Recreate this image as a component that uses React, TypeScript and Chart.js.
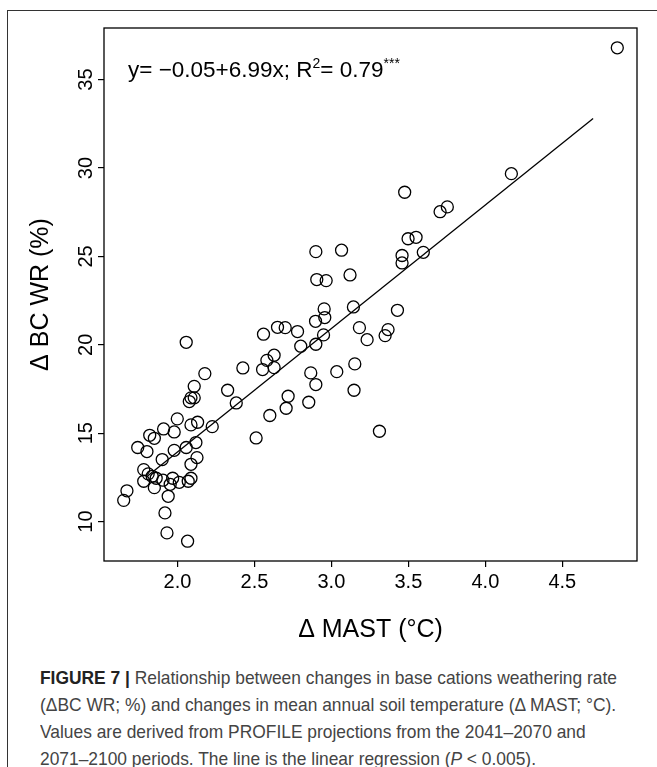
import React, { useEffect, useRef } from "react";
import { Chart, registerables } from "chart.js";

Chart.register(...registerables);

// Δ MAST (°C)
const mastValues = [
  4.857, 4.169, 3.476, 3.706, 3.753, 3.498, 3.55, 2.899, 3.066, 3.459,
  3.597, 3.459, 2.905, 2.966, 3.121, 2.953, 2.957, 3.143, 3.429, 2.897,
  2.65, 2.7, 2.78, 2.559, 3.182, 3.368, 3.349, 2.949, 2.057, 3.232,
  2.801, 2.899, 2.628, 2.581, 2.628, 2.553, 2.425, 2.178, 3.152, 2.866,
  3.035, 2.899, 3.147, 2.109, 2.326, 2.088, 2.109, 2.077, 2.382, 2.719,
  2.706, 2.853, 2.6, 1.999, 1.91, 1.979, 2.088, 2.131, 2.226, 1.82,
  1.85, 2.511, 3.312, 1.742, 1.802, 1.979, 2.057, 2.12, 1.901, 2.127,
  2.088, 1.781, 1.81, 1.836, 1.862, 1.781, 1.906, 1.969, 1.953, 2.012,
  2.088, 2.07, 1.85, 1.94, 1.672, 1.651, 1.919, 1.932, 2.066,
];

// Δ BC WR (%)
const bcwrValues = [
  36.8, 29.68, 28.63, 27.53, 27.8, 26.0, 26.08, 25.27, 25.35, 25.05,
  25.23, 24.63, 23.69, 23.63, 23.95, 22.03, 21.54, 22.14, 21.95, 21.33,
  20.99, 20.97, 20.75, 20.6, 20.97, 20.86, 20.52, 20.56, 20.14, 20.29,
  19.92, 20.03, 19.41, 19.12, 18.71, 18.6, 18.69, 18.37, 18.92, 18.41,
  18.48, 17.75, 17.43, 17.65, 17.43, 17.0, 17.0, 16.79, 16.71, 17.09,
  16.41, 16.75, 16.0, 15.81, 15.24, 15.07, 15.47, 15.62, 15.37, 14.88,
  14.71, 14.73, 15.11, 14.19, 13.96, 14.03, 14.19, 14.47, 13.51, 13.62,
  13.24, 12.94, 12.7, 12.56, 12.45, 12.28, 12.34, 12.45, 12.11, 12.22,
  12.45, 12.28, 11.92, 11.43, 11.74, 11.2, 10.49, 9.36, 8.89,
];

const xTickValues = [2.0, 2.5, 3.0, 3.5, 4.0, 4.5];
const yTickValues = [10, 15, 20, 25, 30, 35];
const xLimits = [1.523, 4.985];
const yLimits = [7.77, 37.92];

// regression y = intercept + slope * x, drawn between these x values
const regIntercept = -0.05;
const regSlope = 6.99;
const regLineX = [1.8, 4.7];

const FONT = '"Liberation Sans", Arial, Helvetica, sans-serif';

const rBoxPlugin = {
  id: "rBox",
  afterDraw(chart: any) {
    const { ctx, chartArea: a, scales } = chart;
    ctx.save();
    ctx.strokeStyle = "#000";
    ctx.lineWidth = 1.3;
    ctx.strokeRect(a.left, a.top, a.right - a.left, a.bottom - a.top);
    ctx.fillStyle = "#000";
    ctx.font = `20px ${FONT}`;
    ctx.textAlign = "center";
    ctx.textBaseline = "alphabetic";
    for (const v of yTickValues) {
      const py = scales.y.getPixelForValue(v);
      ctx.save();
      ctx.translate(a.left - 12, py);
      ctx.rotate(-Math.PI / 2);
      ctx.fillText(String(v), 0, 0);
      ctx.restore();
    }
    ctx.restore();
  },
};

export default function App() {
  const canvasRef = useRef<HTMLCanvasElement | null>(null);

  useEffect(() => {
    const canvas = canvasRef.current;
    if (!canvas) return;
    const points = mastValues.map((x, i) => ({ x, y: bcwrValues[i] }));
    const regLine = regLineX.map((x) => ({ x, y: regIntercept + regSlope * x }));
    const chart = new Chart(canvas, {
      type: "scatter",
      data: {
        datasets: [
          {
            label: "points",
            data: points,
            pointRadius: 6,
            pointHoverRadius: 6,
            pointBorderWidth: 1.3,
            pointBorderColor: "#000",
            pointBackgroundColor: "rgba(0,0,0,0)",
            showLine: false,
          },
          {
            label: "regression",
            data: regLine,
            showLine: true,
            borderColor: "#000",
            borderWidth: 1.3,
            pointRadius: 0,
            pointHoverRadius: 0,
            fill: false,
          },
        ],
      },
      options: {
        animation: false,
        responsive: false,
        devicePixelRatio: 1,
        events: [],
        layout: { padding: { top: 28, right: 20, left: 0, bottom: 0 } },
        plugins: {
          legend: { display: false },
          tooltip: { enabled: false },
          title: { display: false },
        },
        scales: {
          x: {
            type: "linear",
            min: xLimits[0],
            max: xLimits[1],
            afterFit: (s: any) => {
              s.height = 99;
            },
            afterBuildTicks: (s: any) => {
              s.ticks = xTickValues.map((v) => ({ value: v }));
            },
            ticks: {
              autoSkip: false,
              maxRotation: 0,
              minRotation: 0,
              padding: 3,
              color: "#000",
              font: { size: 20, family: FONT },
              callback: (v: any) => Number(v).toFixed(1),
            },
            grid: {
              display: true,
              drawOnChartArea: false,
              drawTicks: true,
              tickLength: 6,
              color: "#000",
              lineWidth: 1.2,
            },
            border: { display: false },
            title: {
              display: true,
              text: "Δ MAST (°C)",
              color: "#000",
              font: { size: 25, family: FONT },
              padding: { top: 0, bottom: 15 },
            },
          },
          y: {
            type: "linear",
            min: yLimits[0],
            max: yLimits[1],
            afterFit: (s: any) => {
              s.width = 104;
            },
            afterBuildTicks: (s: any) => {
              s.ticks = yTickValues.map((v) => ({ value: v }));
            },
            ticks: { display: false },
            grid: {
              display: true,
              drawOnChartArea: false,
              drawTicks: true,
              tickLength: 6,
              color: "#000",
              lineWidth: 1.2,
            },
            border: { display: false },
            title: {
              display: true,
              text: "Δ BC WR (%)",
              color: "#000",
              font: { size: 25, family: FONT },
              padding: { top: 26, bottom: 0 },
            },
          },
        },
      },
      plugins: [rBoxPlugin],
    });
    return () => chart.destroy();
  }, []);

  return (
    <div
      style={{
        position: "absolute",
        left: 0,
        top: 0,
        width: 657,
        height: 767,
        overflow: "hidden",
        background: "#fff",
      }}
    >
      <div
        style={{
          position: "absolute",
          left: 7,
          top: 10,
          width: 700,
          height: 800,
          borderTop: "1.5px solid #333",
          borderLeft: "1.5px solid #333",
        }}
      />
      <canvas
        ref={canvasRef}
        width={657}
        height={660}
        style={{ position: "absolute", left: 0, top: 0, width: 657, height: 660 }}
      />
      <div
        style={{
          position: "absolute",
          left: 128,
          top: 57,
          fontFamily: FONT,
          fontSize: 22.5,
          lineHeight: "26px",
          color: "#000",
          whiteSpace: "nowrap",
        }}
      >
        y= −0.05+6.99x; R
        <span style={{ fontSize: 14, position: "relative", top: -9 }}>2</span>= 0.79
        <span style={{ fontSize: 14, position: "relative", top: -9 }}>***</span>
      </div>
      <div
        style={{
          position: "absolute",
          left: 40,
          top: 664,
          fontFamily: FONT,
          fontSize: 19,
          lineHeight: "27px",
          color: "#444",
          whiteSpace: "nowrap",
          transform: "scaleX(0.915)",
          transformOrigin: "left top",
        }}
      >
        <b style={{ color: "#222" }}>FIGURE 7 |</b> Relationship between changes in base cations weathering rate
        <br />
        (ΔBC WR; %) and changes in mean annual soil temperature (Δ MAST; °C).
        <br />
        Values are derived from PROFILE projections from the 2041–2070 and
        <br />
        2071–2100 periods. The line is the linear regression (<i>P</i> &lt; 0.005).
      </div>
    </div>
  );
}
